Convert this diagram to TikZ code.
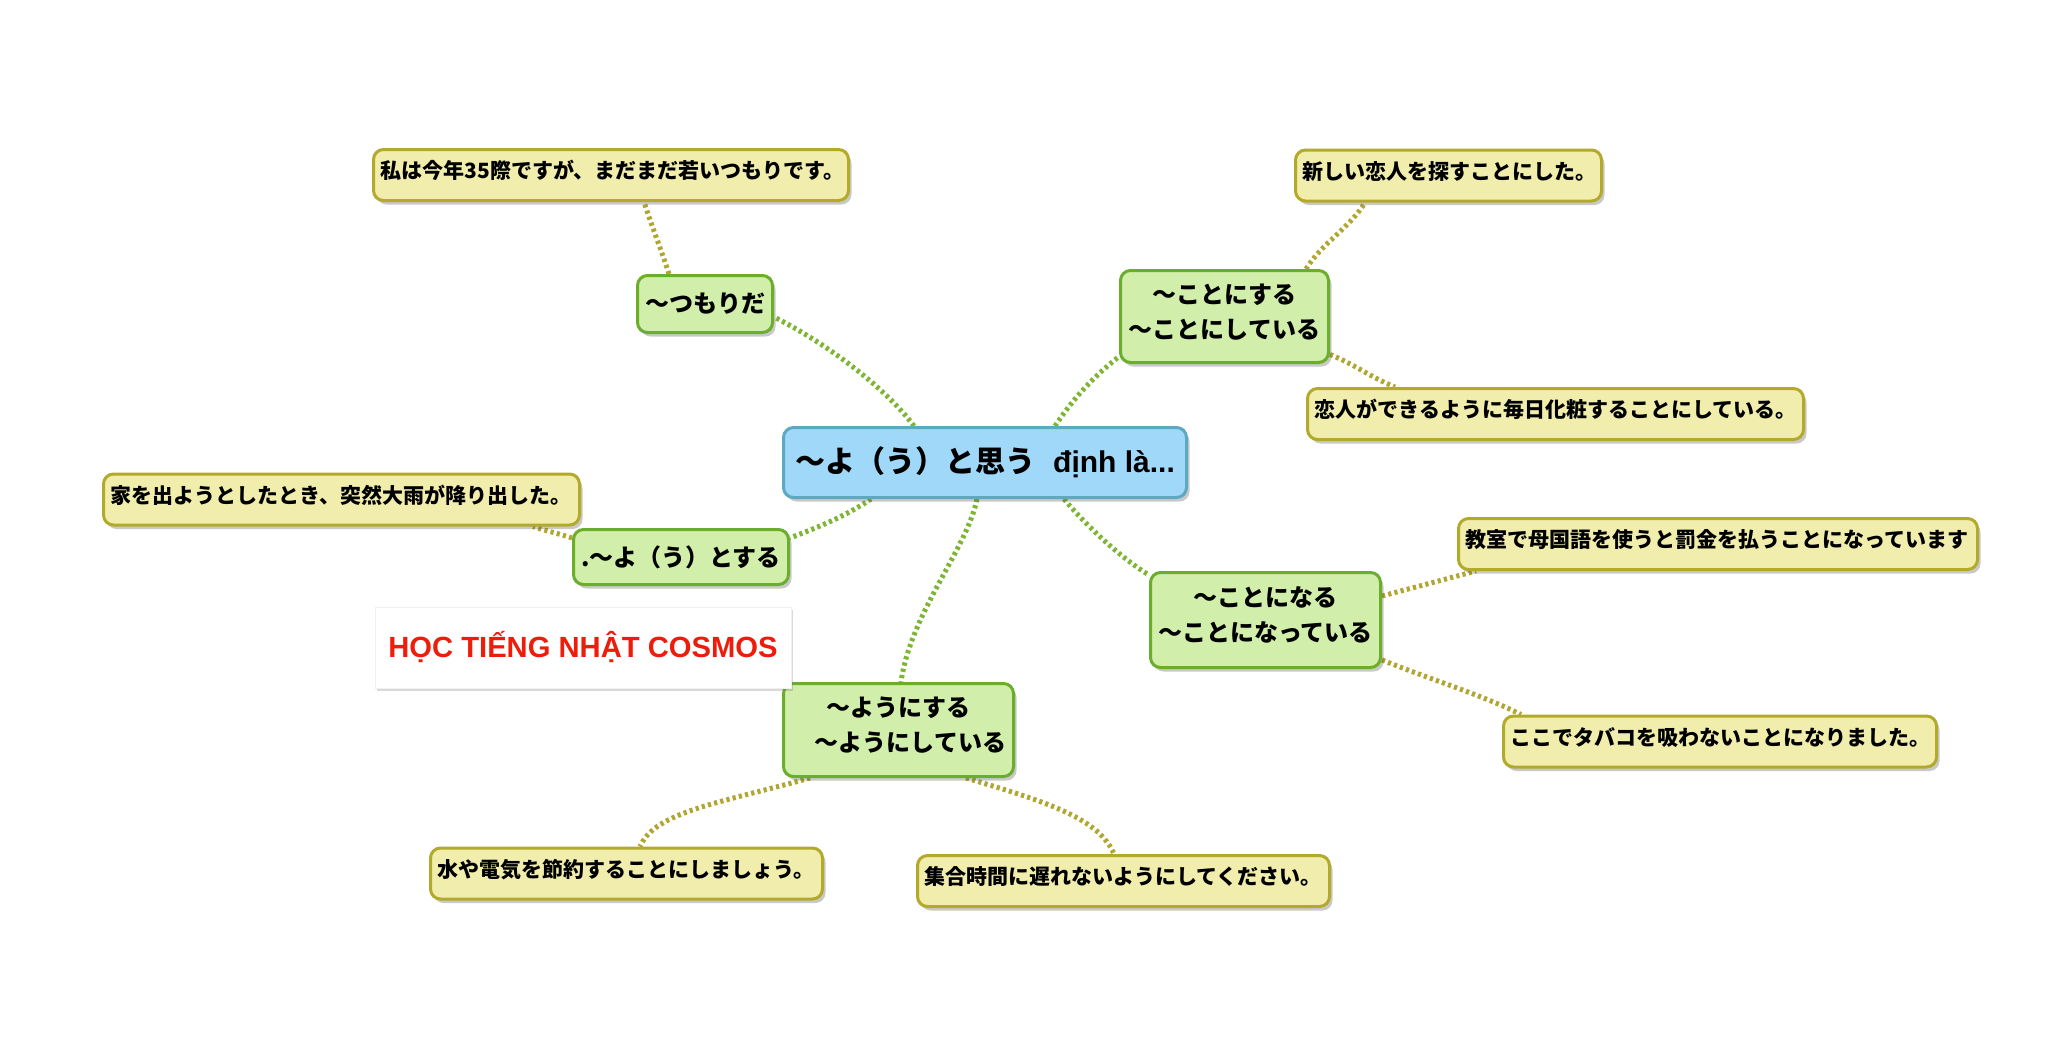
\documentclass[tikz,border=0pt]{standalone}
\usepackage{fontspec}
\newfontfamily\jp{Noto Sans CJK JP}
\newfontfamily\lat{Liberation Sans}
\usetikzlibrary{shadows,calc,backgrounds}
\definecolor{hubfill}{HTML}{9FD8F8}
\definecolor{hubdraw}{HTML}{5EA9C2}
\definecolor{brfill}{HTML}{D1EEAB}
\definecolor{brdraw}{HTML}{6BAE2B}
\definecolor{lffill}{HTML}{F1EDAC}
\definecolor{lfdraw}{HTML}{B3AA2B}
\definecolor{brlinkc}{HTML}{7EB532}
\definecolor{lflinkc}{HTML}{B0A631}
\definecolor{brandred}{HTML}{EE1D0B}
\begin{document}
\begin{tikzpicture}[x=0.5pt,y=-0.5pt,
  box/.style={rounded corners=5pt, line width=1.5pt,
    drop shadow={shadow xshift=1.5pt, shadow yshift=-2pt, opacity=0.3, fill=black!70}},
  hub/.style={box, fill=hubfill, draw=hubdraw, minimum width=201.5pt, minimum height=35pt,
    font=\jp\bfseries\fontsize{15}{18}\selectfont},
  branch/.style={box, fill=brfill, draw=brdraw, align=center, inner sep=2pt,
    font=\jp\bfseries\fontsize{12}{17.5}\selectfont},
  twoline/.style={text depth=5.5pt},
  leafbox/.style={box, fill=lffill, draw=lfdraw, text width=#1, align=left,
    minimum height=25.5pt, inner xsep=3.5pt, inner ysep=2pt, text height=9.5pt, text depth=6pt,
    font=\jp\bfseries\fontsize{10.5}{12}\selectfont},
  brand/.style={fill=white, draw=black!6, line width=0.4pt, minimum width=208pt, minimum height=40.5pt,
    drop shadow={shadow xshift=1pt, shadow yshift=-1.5pt, opacity=0.25, fill=black!60},
    text=brandred, font=\lat\bfseries\fontsize{14.6}{17}\selectfont},
  brlink/.style={draw=brlinkc, line width=2.5pt, dash pattern=on 1.6pt off 1.6pt},
  lflink/.style={draw=lflinkc, line width=2.5pt, dash pattern=on 1.6pt off 1.6pt}
]
\useasboundingbox (0,0) rectangle (2048,1055);

% hub
\node[hub] (c) at (985,462.5) {〜よ（う）と思う\hspace{0.6em}{\lat\bfseries định là...}};

% branches
\node[branch, minimum width=67.5pt, minimum height=28.5pt] (ts) at (705,304) {〜つもりだ};
\node[branch, twoline, minimum width=104pt, minimum height=46pt] (kn) at (1224.5,316.5) {〜ことにする\\〜ことにしている};
\node[branch, minimum width=107.5pt, minimum height=27.5pt] (yt) at (681,557) {.〜よ（う）とする};
\node[branch, twoline, minimum width=115pt, minimum height=47.5pt] (kr) at (1265.5,620) {〜ことになる\\〜ことになっている};
\node[branch, twoline, minimum width=115pt, minimum height=46.5pt] (yn) at (898.5,730) {〜ようにする\\　〜ようにしている};

% leaves
\node[leafbox=230.5pt] (l1) at (611,175) {私は今年35際ですが、まだまだ若いつもりです。};
\node[leafbox=146pt] (l2) at (1448.5,175.5) {新しい恋人を探すことにした。};
\node[leafbox=241pt] (l3) at (1555.5,414) {恋人ができるように毎日化粧することにしている。};
\node[leafbox=231pt] (l4) at (341.5,499.5) {家を出ようとしたとき、突然大雨が降り出した。};
\node[leafbox=252.5pt] (l5) at (1718,544) {教室で母国語を使うと罰金を払うことになっています};
\node[leafbox=209.5pt] (l6) at (1720,741.5) {ここでタバコを吸わないことになりました。};
\node[leafbox=189pt] (l7) at (626.5,873.5) {水や電気を節約することにしましょう。};
\node[leafbox=199pt] (l8) at (1123.5,881) {集合時間に遅れないようにしてください。};

% brand box
\node[brand] (br) at (583,647.5) {HỌC TIẾNG NHẬT COSMOS};

% connectors
\begin{scope}[on background layer]
\draw[brlink] ($(c.north)+(-71,0)$) .. controls +(-30,-40) and +(50,25) .. ($(ts.east)+(0,13)$);
\draw[lflink] ($(ts.north)+(-36,0)$) .. controls +(-8,-25) and +(8,25) .. ($(l1.south)+(33,0)$);
\draw[brlink] ($(c.north)+(70,0)$) .. controls +(20,-30) and +(-25,20) .. ($(kn.west)+(0,40)$);
\draw[lflink] ($(kn.north)+(81.5,0)$) .. controls +(15,-25) and +(-15,25) .. ($(l2.south)+(-83.5,0)$);
\draw[lflink] ($(kn.east)+(0,38)$) .. controls +(25,10) and +(-25,-10) .. ($(l3.north)+(-160.5,0)$);
\draw[brlink] ($(c.south)+(-114,0)$) .. controls +(-30,20) and +(25,-10) .. ($(yt.east)+(0,-19)$);
\draw[lflink] ($(yt.west)+(0,-19)$) .. controls +(-15,-5) and +(15,5) .. ($(l4.south)+(191.5,0)$);
\draw[brlink] ($(c.south)+(79,0)$) .. controls +(25,30) and +(-25,-15) .. ($(kr.west)+(0,-45)$);
\draw[lflink] ($(kr.east)+(0,-24)$) .. controls +(30,-8) and +(-30,8) .. ($(l5.south)+(-242,0)$);
\draw[lflink] ($(kr.east)+(0,40)$) .. controls +(50,20) and +(-40,-20) .. ($(l6.north)+(-199,0)$);
\draw[brlink] ($(c.south)+(-8,0)$) .. controls +(-10,50) and +(10,-70) .. ($(yn.north)+(2.5,0)$);
\draw[lflink] ($(yn.south)+(-88.5,0)$) .. controls +(-90,25) and +(15,-35) .. ($(l7.north)+(13.5,0)$);
\draw[lflink] ($(yn.south)+(67.5,0)$) .. controls +(85,25) and +(-15,-35) .. ($(l8.north)+(-9.5,0)$);
\end{scope}
\end{tikzpicture}
\end{document}
